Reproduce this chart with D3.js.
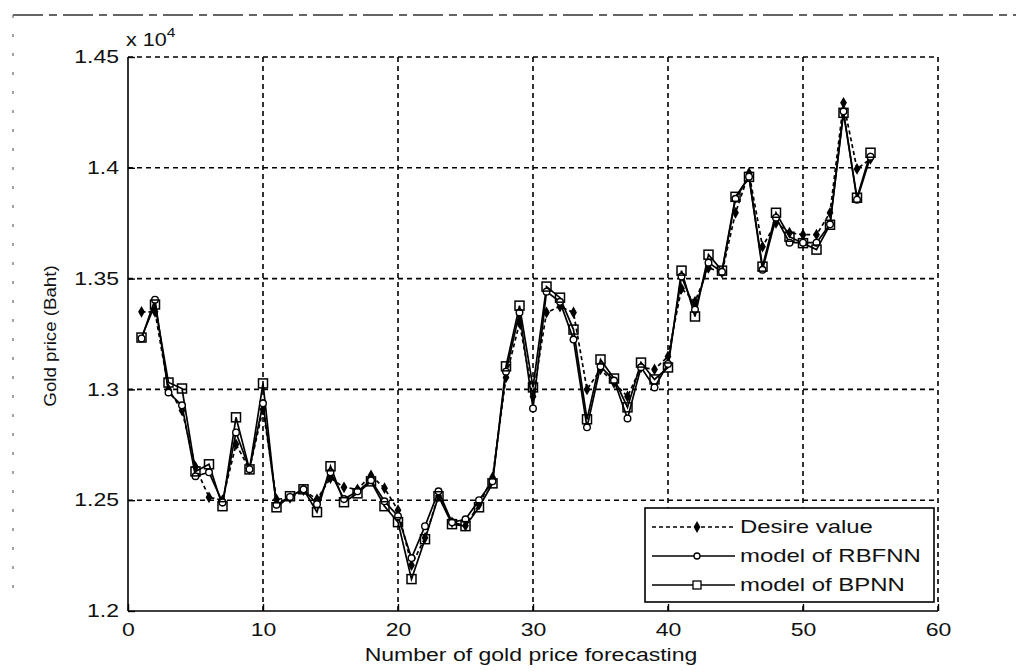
<!DOCTYPE html>
<html>
<head>
<meta charset="utf-8">
<script src="https://cdn.jsdelivr.net/npm/d3@7"></script>
<style>
html,body{margin:0;padding:0;background:#fff;}
svg{display:block;font-family:"Liberation Sans",Arial,sans-serif;}
</style>
</head>
<body>
<svg id="chart" width="1016" height="671"></svg>
<script>
const xIndex = d3.range(1, 56);
const desire = [13350,13350,13000,12905,12650,12513,12500,12752,12640,12910,
  12504,12510,12545,12504,12600,12558,12549,12612,12554,12455,
  12207,12330,12520,12400,12385,12480,12603,13054,13300,12968,
  13347,13374,13347,13000,13090,13030,12968,13100,13090,13149,
  13455,13396,13549,13527,13797,13977,13644,13752,13707,13698,
  13698,13797,14293,13995,14040];
const rbfnn = [13230,13405,12986,12928,12608,12626,12490,12806,12640,12937,
  12480,12515,12549,12482,12626,12505,12540,12590,12495,12428,
  12239,12383,12540,12400,12414,12500,12585,13080,13347,12914,
  13441,13395,13225,12829,13104,13040,12869,13100,13009,13115,
  13509,13360,13572,13530,13860,13960,13540,13775,13662,13662,
  13662,13745,14255,13856,14050];
const bpnn = [13234,13383,13031,13004,12630,12662,12473,12874,12639,13027,
  12468,12518,12549,12446,12653,12491,12531,12585,12473,12401,
  12144,12324,12518,12392,12383,12468,12576,13104,13378,13009,
  13464,13414,13270,12865,13135,13049,12919,13121,13045,13099,
  13536,13329,13608,13536,13869,13959,13554,13797,13689,13660,
  13631,13743,14248,13865,14068];
const xTicks = [0,10,20,30,40,50,60];
const yTicks = [12000,12500,13000,13500,14000,14500];
const yTickLabels = ["1.2","1.25","1.3","1.35","1.4","1.45"];
const legendLabels = ["Desire value","model of RBFNN","model of BPNN"];

const svg = d3.select("#chart");
const L = 128, R = 938, T = 57, B = 611;
const x = d3.scaleLinear().domain([0,60]).range([L,R]);
const y = d3.scaleLinear().domain([12000,14500]).range([B,T]);
const FS = 18, SX = 1.28;

// scan artifacts frame
svg.append("line").attr("x1",13).attr("x2",1016).attr("y1",15).attr("y2",15)
  .attr("stroke","#333").attr("stroke-width",1.4).attr("stroke-dasharray","30,6,8,6");
svg.append("line").attr("x1",13).attr("x2",13).attr("y1",15).attr("y2",600)
  .attr("stroke","#666").attr("stroke-width",1.2).attr("stroke-dasharray","3,16");

// grid
const g = svg.append("g");
xTicks.forEach(t => {
  if (t === 0) return;
  g.append("line").attr("x1",x(t)).attr("x2",x(t)).attr("y1",T).attr("y2",B)
    .attr("stroke","#000").attr("stroke-width",1.6).attr("stroke-dasharray","5,4");
});
yTicks.forEach(t => {
  if (t === 12000) return;
  g.append("line").attr("x1",L).attr("x2",R).attr("y1",y(t)).attr("y2",y(t))
    .attr("stroke","#000").attr("stroke-width",1.6).attr("stroke-dasharray","5,4");
});
// solid left / bottom axes
svg.append("line").attr("x1",L).attr("x2",L).attr("y1",T).attr("y2",B).attr("stroke","#000").attr("stroke-width",1.6);
svg.append("line").attr("x1",L).attr("x2",R).attr("y1",B).attr("y2",B).attr("stroke","#000").attr("stroke-width",1.6);

// axes with inward ticks
const xAxis = d3.axisBottom(x).tickValues(xTicks).tickSize(-7).tickPadding(12).tickFormat(d3.format("d"));
const gx = svg.append("g").attr("transform",`translate(0,${B})`).call(xAxis);
gx.select(".domain").remove();
gx.selectAll(".tick line").attr("stroke","#000").attr("stroke-width",1.4);
gx.selectAll("text").attr("font-size",FS).attr("fill","#111").attr("font-family","Liberation Sans, Arial, sans-serif")
  .attr("transform",`scale(${SX},1)`);

const yAxis = d3.axisLeft(y).tickValues(yTicks).tickSize(-7).tickPadding(7).tickFormat((d,i)=>yTickLabels[i]);
const gy = svg.append("g").attr("transform",`translate(${L},0)`).call(yAxis);
gy.select(".domain").remove();
gy.selectAll(".tick line").attr("stroke","#000").attr("stroke-width",1.4);
gy.selectAll("text").attr("font-size",FS).attr("fill","#111").attr("font-family","Liberation Sans, Arial, sans-serif")
  .attr("transform",`scale(${SX},1)`);

// exponent label
const ex = svg.append("text").attr("transform",`translate(126,46) scale(1.2,1)`).attr("font-size",FS).attr("fill","#111");
ex.append("tspan").text("x 10");
ex.append("tspan").attr("dy",-9).attr("font-size",13).text("4");

// axis titles
svg.append("text").attr("transform",`translate(531,661) scale(${SX},1)`).attr("text-anchor","middle")
  .attr("font-size",FS).attr("fill","#111").text("Number of gold price forecasting");
svg.append("text").attr("transform","translate(56,336) rotate(-90) scale(1.1,1)").attr("text-anchor","middle")
  .attr("font-size",17).attr("fill","#111").text("Gold price (Baht)");

// lines
const line = (arr) => d3.line().x((d,i)=>x(xIndex[i])).y(d=>y(d))(arr);
svg.append("path").attr("d",line(bpnn)).attr("fill","none").attr("stroke","#000").attr("stroke-width",1.7);
svg.append("path").attr("d",line(rbfnn)).attr("fill","none").attr("stroke","#000").attr("stroke-width",1.7);
svg.append("path").attr("d",line(desire)).attr("fill","none").attr("stroke","#000").attr("stroke-width",1.7).attr("stroke-dasharray","4,3");

// markers
const diamond = d3.symbol().type(d3.symbolDiamond).size(40);
svg.append("g").selectAll("path").data(desire).join("path")
  .attr("d",diamond).attr("transform",(d,i)=>`translate(${x(xIndex[i])},${y(d)})`).attr("fill","#000");
svg.append("g").selectAll("circle").data(rbfnn).join("circle")
  .attr("cx",(d,i)=>x(xIndex[i])).attr("cy",d=>y(d)).attr("r",3.3)
  .attr("fill","#fff").attr("stroke","#000").attr("stroke-width",1.4);
svg.append("g").selectAll("rect").data(bpnn).join("rect")
  .attr("x",(d,i)=>x(xIndex[i])-4.5).attr("y",d=>y(d)-4.5).attr("width",9).attr("height",9)
  .attr("fill","none").attr("stroke","#000").attr("stroke-width",1.5);

// legend
const lg = svg.append("g");
lg.append("rect").attr("x",645).attr("y",508).attr("width",289).attr("height",94)
  .attr("fill","#fff").attr("stroke","#000").attr("stroke-width",1.6);
const rows = [527,556,585];
legendLabels.forEach((lab,i) => {
  const yy = rows[i];
  lg.append("line").attr("x1",652).attr("x2",735).attr("y1",yy).attr("y2",yy)
    .attr("stroke","#000").attr("stroke-width",1.5).attr("stroke-dasharray", i===0 ? "4,3" : null);
  if (i===0) lg.append("path").attr("d",diamond).attr("transform",`translate(697,${yy})`).attr("fill","#000");
  if (i===1) lg.append("circle").attr("cx",697).attr("cy",yy).attr("r",3).attr("fill","#fff").attr("stroke","#000").attr("stroke-width",1.3);
  if (i===2) lg.append("rect").attr("x",693).attr("y",yy-4).attr("width",8).attr("height",8).attr("fill","#fff").attr("stroke","#000").attr("stroke-width",1.3);
  lg.append("text").attr("transform",`translate(740,${yy+6}) scale(1.33,1)`).attr("font-size",FS).attr("fill","#111").text(lab);
});
</script>
</body>
</html>
